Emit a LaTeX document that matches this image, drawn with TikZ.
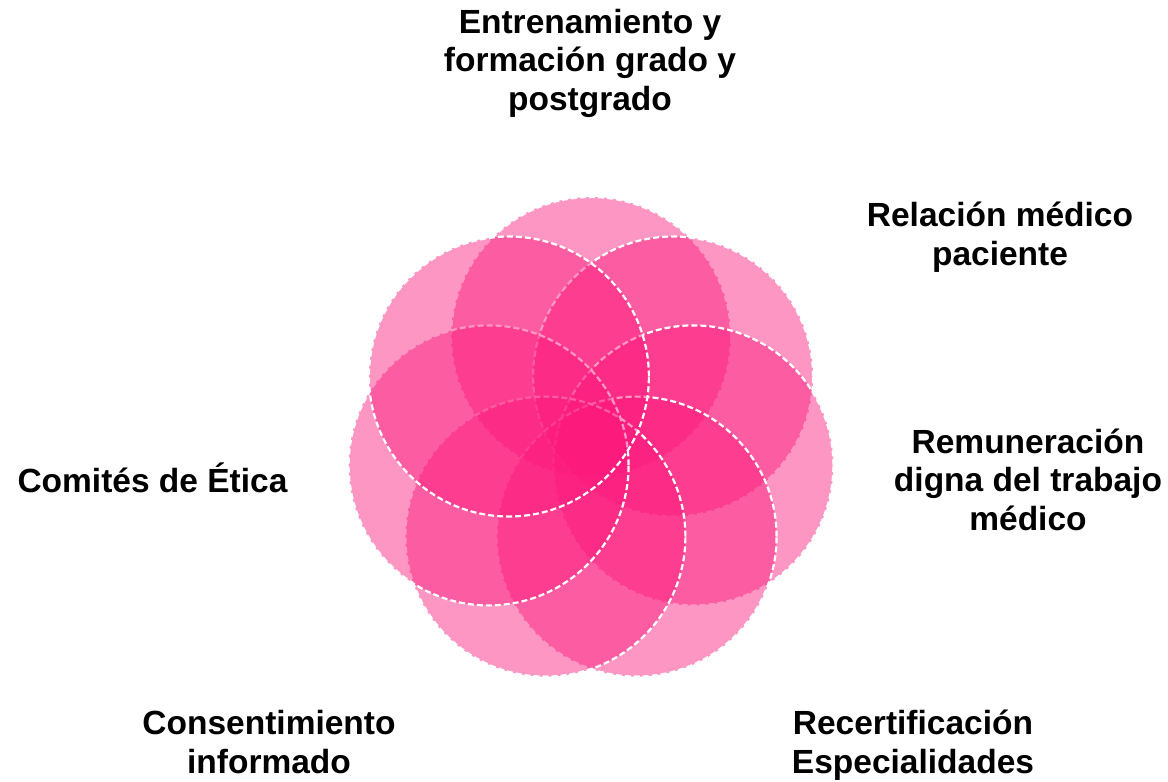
\documentclass[tikz,border=0pt]{standalone}
\usepackage{fontspec}
\setmainfont{Liberation Sans}
\definecolor{petalpink}{RGB}{252,24,124}
\tikzset{
  x=1pt, y=-1pt,
  petal/.style={circle, minimum size=280pt, inner sep=0pt, outer sep=0pt,
    fill=petalpink, fill opacity=0.45, draw=white, draw opacity=1,
    line width=2.2pt, dash pattern=on 6pt off 3pt},
  lbl/.style={align=center, font=\bfseries\fontsize{33.5}{38.5}\selectfont, text=black, inner sep=0pt}
}
\begin{document}
\begin{tikzpicture}
\useasboundingbox (0,0) rectangle (1168,782);
\fill[white] (0,0) rectangle (1168,782);
\node[petal] (p0) at (591,337) {};
\node[petal] (p1) at (673.1,376.5) {};
\node[petal] (p2) at (693.4,465.4) {};
\node[petal] (p3) at (636.6,536.6) {};
\node[petal] (p4) at (545.4,536.6) {};
\node[petal] (p5) at (488.6,465.4) {};
\node[petal] (p6) at (508.9,376.5) {};
\node[lbl, anchor=base] (l0) at (590,110) {Entrenamiento y\\formación grado y\\postgrado};
\node[lbl, anchor=base] (l1) at (1000,265) {Relación médico\\paciente};
\node[lbl, anchor=base] (l2) at (1028,530) {Remuneración\\digna del trabajo\\médico};
\node[lbl, anchor=base] (l3) at (152.5,492) {Comités de Ética};
\node[lbl, anchor=base] (l4) at (269,773) {Consentimiento\\informado};
\node[lbl, anchor=base] (l5) at (913,773) {Recertificación\\Especialidades};
\end{tikzpicture}
\end{document}
